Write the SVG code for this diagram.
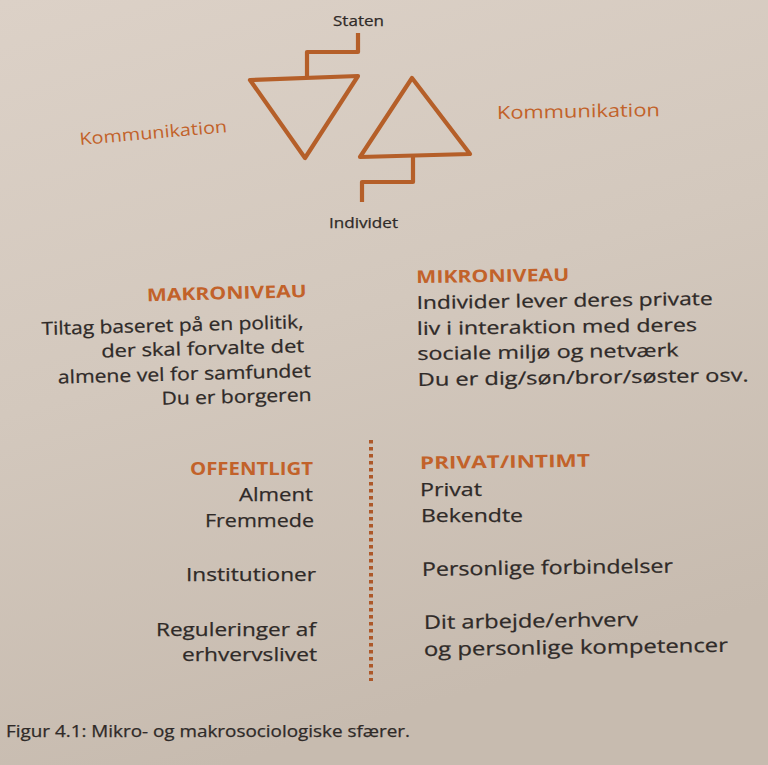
<svg xmlns="http://www.w3.org/2000/svg" width="768" height="765" viewBox="0 0 768 765">
  <defs>
    <linearGradient id="paper" x1="0" y1="0" x2="0.3" y2="1">
      <stop offset="0" stop-color="#dcd1c7"/>
      <stop offset="0.5" stop-color="#d3c8bd"/>
      <stop offset="1" stop-color="#c7bbaf"/>
    </linearGradient>
    <style>
      .ln { fill: none; stroke: #b55f29; stroke-width: 4.2; stroke-linejoin: round; stroke-linecap: butt; }
      .dots { fill: none; stroke: #ad5829; stroke-width: 4; stroke-dasharray: 3.5 3.5; }
      .t { font-family: "Open Sans", "Liberation Sans", sans-serif; fill: #2f2a28; stroke: #2f2a28; stroke-width: 0.25; }
      .o { font-family: "Open Sans", "Liberation Sans", sans-serif; fill: #c2622a; }
      .h { font-family: "Open Sans", "Liberation Sans", sans-serif; font-weight: 700; fill: #c2622a; font-size: 17.5px; }
      .b { font-size: 18px; }
      .b2 { font-size: 19px; }
      .s { font-size: 15px; }
      .e { text-anchor: end; }
    </style>
  </defs>

  <rect width="768" height="765" fill="url(#paper)"/>

  <!-- top: state / individual triangles -->
  <g id="staten">
    <text class="t s" x="333" y="26" textLength="51" lengthAdjust="spacingAndGlyphs">Staten</text>
  </g>
  <g id="individet">
    <text class="t s" x="329" y="228" textLength="69" lengthAdjust="spacingAndGlyphs">Individet</text>
  </g>
  <g id="triangle-down">
    <path class="ln" d="M250,80 L358,76 L305,158 Z"/>
  </g>
  <g id="triangle-up">
    <path class="ln" d="M412,78 L470,154 L360,157 Z"/>
  </g>
  <g id="komm-left">
    <text class="o" font-size="17" x="80" y="145" transform="rotate(-5 80 145)" textLength="148" lengthAdjust="spacingAndGlyphs">Kommunikation</text>
  </g>
  <g id="komm-right">
    <text class="o" font-size="18" x="497" y="119" transform="rotate(-1 497 119)" textLength="163" lengthAdjust="spacingAndGlyphs">Kommunikation</text>
  </g>

  <g id="connectors">
    <polyline class="ln" points="358,33 358,52 307,52 307,78"/>
    <polyline class="ln" points="413,156 413,182 362,182 362,202"/>
    <line class="dots" x1="371" y1="440" x2="371" y2="681"/>
  </g>

  <!-- macro level -->
  <g id="makroniveau" transform="rotate(-1.5 308 340)">
    <text class="h e" x="308" y="297" textLength="160" lengthAdjust="spacingAndGlyphs">MAKRONIVEAU</text>
    <text class="t b e" x="304" y="328" textLength="262" lengthAdjust="spacingAndGlyphs">Tiltag baseret på en politik,</text>
    <text class="t b e" x="304" y="352" textLength="203" lengthAdjust="spacingAndGlyphs">der skal forvalte det</text>
    <text class="t b e" x="310" y="377" textLength="253" lengthAdjust="spacingAndGlyphs">almene vel for samfundet</text>
    <text class="t b e" x="310" y="401" textLength="150" lengthAdjust="spacingAndGlyphs">Du er borgeren</text>
  </g>

  <!-- micro level -->
  <g id="mikroniveau" transform="rotate(-0.8 417 330)">
    <text class="h" x="417" y="283" textLength="153" lengthAdjust="spacingAndGlyphs">MIKRONIVEAU</text>
    <text class="t b" x="417" y="309" textLength="296" lengthAdjust="spacingAndGlyphs">Individer lever deres private</text>
    <text class="t b" x="417" y="335" textLength="280" lengthAdjust="spacingAndGlyphs">liv i interaktion med deres</text>
    <text class="t b" x="417" y="360" textLength="261" lengthAdjust="spacingAndGlyphs">sociale miljø og netværk</text>
    <text class="t b" x="417" y="386" textLength="331" lengthAdjust="spacingAndGlyphs">Du er dig/søn/bror/søster osv.</text>
  </g>

  <!-- public sphere -->
  <g id="offentligt">
    <text class="h e" x="313" y="475" textLength="123" lengthAdjust="spacingAndGlyphs">OFFENTLIGT</text>
    <text class="t b2 e" x="313" y="501" textLength="74" lengthAdjust="spacingAndGlyphs">Alment</text>
    <text class="t b2 e" x="314" y="527" textLength="109" lengthAdjust="spacingAndGlyphs">Fremmede</text>
    <text class="t b2 e" x="316" y="581" textLength="130" lengthAdjust="spacingAndGlyphs">Institutioner</text>
    <text class="t b2 e" x="316" y="636" textLength="160" lengthAdjust="spacingAndGlyphs">Reguleringer af</text>
    <text class="t b2 e" x="317" y="661" textLength="135" lengthAdjust="spacingAndGlyphs">erhvervslivet</text>
  </g>

  <!-- private sphere -->
  <g id="privat">
    <text class="h" x="420" y="469" transform="rotate(-0.8 420 469)" textLength="170" lengthAdjust="spacingAndGlyphs">PRIVAT/INTIMT</text>
    <text class="t b2" x="420" y="496" textLength="62" lengthAdjust="spacingAndGlyphs">Privat</text>
    <text class="t b2" x="421" y="522" textLength="102" lengthAdjust="spacingAndGlyphs">Bekendte</text>
    <text class="t b2" x="422" y="576" transform="rotate(-0.8 422 576)" textLength="251" lengthAdjust="spacingAndGlyphs">Personlige forbindelser</text>
    <text class="t b2" x="424" y="629" transform="rotate(-0.8 424 629)" textLength="214" lengthAdjust="spacingAndGlyphs">Dit arbejde/erhverv</text>
    <text class="t b2" x="424" y="656" transform="rotate(-0.8 424 656)" textLength="304" lengthAdjust="spacingAndGlyphs">og personlige kompetencer</text>
  </g>

  <!-- caption -->
  <g id="caption">
    <text class="t" font-size="16" x="6" y="737" textLength="404" lengthAdjust="spacingAndGlyphs">Figur 4.1: Mikro- og makrosociologiske sfærer.</text>
  </g>
</svg>
